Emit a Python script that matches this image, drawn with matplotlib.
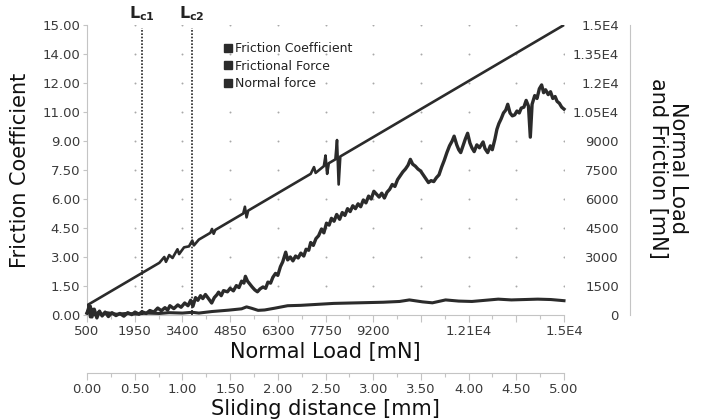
import matplotlib
matplotlib.use('Agg')
import matplotlib.pyplot as plt
from matplotlib.lines import Line2D
import numpy as np

# ---- axis ticks / labels ----
load_ticks = [500, 1950, 3400, 4850, 6300, 7750, 9200, 10650, 12100, 13550, 15000]
load_labels = ['500', '1950', '3400', '4850', '6300', '7750', '9200', '', '1.21E4', '', '1.5E4']
cof_ticks = [0, 1.5, 3, 4.5, 6, 7.5, 9, 10.5, 12, 13.5, 15]
cof_labels = ['0.00', '1.50', '3.00', '4.50', '6.00', '7.50', '9.00', '11.00', '12.00', '14.00', '15.00']
force_ticks = [0, 1500, 3000, 4500, 6000, 7500, 9000, 10500, 12000, 13500, 15000]
force_labels = ['0', '1500', '3000', '4500', '6000', '7500', '9000', '1.05E4', '1.2E4', '1.35E4', '1.5E4']
slide_ticks = [0, 0.5, 1, 1.5, 2, 2.5, 3, 3.5, 4, 4.5, 5]
slide_labels = ['0.00', '0.50', '1.00', '1.50', '2.00', '2.50', '3.00', '3.50', '4.00', '4.50', '5.00']

# critical loads [mN]
lc_loads = [2170, 3680]
lc_names = [r'$\mathbf{L_{c1}}$', r'$\mathbf{L_{c2}}$']

# ---- series ----
# normal force [mN] vs normal load [mN]
fn_load = [500, 2700, 2850, 2900, 3000, 3100, 3250, 3300, 3450, 3600, 3700, 3750, 3900,
           4250, 4300, 4350, 4400, 5250, 5300, 5350, 5400, 6400, 7300, 7400, 7450,
           7700, 7750, 7800, 7850, 8050, 8100, 8150, 8200, 15000]
fn_force = [500, 2700, 3000, 2750, 3100, 2950, 3400, 3150, 3500, 3550, 3850, 3600, 3900,
            4250, 4450, 4200, 4400, 5250, 5600, 5050, 5400, 6400, 7300, 7650, 7350,
            7700, 8250, 7300, 7850, 8050, 9050, 6750, 8200, 15000]

# frictional force [mN]
ff_load = [500, 600, 650, 720, 800, 880, 960, 1050, 1150, 1260, 1380, 1500, 1620, 1740,
           1860, 1960, 2080, 2170, 2300, 2410, 2530, 2650, 2760, 2870, 2950, 3020, 3140,
           3260, 3360, 3470, 3570, 3650, 3720, 3800, 3870, 3950, 4020, 4100, 4180, 4290,
           4370, 4450, 4500, 4580, 4650, 4770, 4850, 4950, 5040, 5120, 5200, 5270, 5315,
           5380, 5450, 5520, 5600, 5680, 5760, 5850, 5930, 6000, 6080, 6150, 6230, 6300,
           6380, 6450, 6540, 6600, 6680, 6760, 6840, 6920, 7000, 7090, 7160, 7240, 7300,
           7380, 7460, 7540, 7630, 7700, 7780, 7860, 7930, 8010, 8090, 8180, 8260, 8340,
           8420, 8500, 8580, 8660, 8740, 8820, 8900, 8980, 9060, 9140, 9220, 9300, 9380,
           9460, 9540, 9620, 9700, 9780, 9860, 9940, 10020, 10100, 10180, 10260, 10330,
           10400, 10480, 10560, 10640, 10720, 10800, 10880, 10960, 11040, 11120, 11200,
           11280, 11360, 11440, 11520, 11600, 11660, 11740, 11800, 11860, 11940, 12000,
           12070, 12140, 12200, 12270, 12350, 12430, 12540, 12600, 12680, 12760, 12820,
           12900, 12960, 13020, 13090, 13160, 13230, 13290, 13360, 13430, 13500, 13570,
           13640, 13700, 13780, 13850, 13920, 13976, 14030, 14110, 14180, 14250, 14320,
           14380, 14440, 14520, 14590, 14660, 14730, 14790, 14860, 14930, 15000]
ff_force = [100, 450, -100, 300, -150, 200, -50, 150, -80, 120, -30, 80, -60, 120,
            20, 150, 40, 170, 80, 230, 150, 360, 220, 380, 250, 480, 330,
            520, 400, 620, 480, 760, 450, 900, 760, 1000, 850, 1060, 880, 620,
            900, 1050, 1180, 1000, 1260, 1200, 1380, 1250, 1520, 1420, 1750, 1650, 2000,
            1750, 1600, 1450, 1300, 1200, 1350, 1450, 1380, 1700, 1650, 1950, 2150, 2050,
            2500, 2750, 3250, 2850, 3000, 2800, 3050, 2950, 3200, 3050, 3400, 3350, 3750,
            3600, 3950, 4100, 4450, 4250, 4750, 4650, 5000, 4850, 5200, 4950, 5300, 5150,
            5500, 5350, 5650, 5500, 5750, 5600, 5950, 5800, 6150, 6000, 6400, 6250, 6100,
            6300, 6050, 6350, 6500, 6750, 6650, 7000, 7200, 7400, 7550, 7750, 8050,
            7800, 7700, 7550, 7450, 7250, 7050, 6850, 6950, 6900, 7100, 7250,
            7650, 8000, 8400, 8750, 9000, 9250, 8800, 8550, 8400, 8800, 9100,
            9400, 8900, 8650, 8450, 8800, 8650, 8950, 8600, 8400, 8750, 8550,
            9100, 9600, 9900, 10150, 10450, 10600, 10900, 10450, 10300, 10350, 10550,
            10450, 10700, 10750, 11100, 10800, 9200, 10900, 11350, 11200, 11700, 11900,
            11500, 11650, 11400, 11550, 11200, 11300, 11050, 10950, 10750, 10650]

# friction coefficient [-]
cof_load = [500, 560, 600, 680, 750, 850, 950, 1100, 1400, 1700, 2000, 2300, 2700, 3000,
            3400, 3700, 3900, 4300, 4800, 5200, 5350, 5500, 5700, 5900, 6200, 6600, 7000,
            7500, 8000, 8500, 9000, 9500, 10000, 10300, 10700, 11000, 11400, 11800, 12200,
            12600, 13000, 13400, 13800, 14200, 14600, 15000]
cof_val = [0.10, 0.45, -0.10, 0.30, 0.00, 0.15, 0.02, 0.12, 0.04, 0.08, 0.05, 0.10, 0.08,
           0.12, 0.10, 0.14, 0.10, 0.18, 0.25, 0.32, 0.42, 0.35, 0.24, 0.26, 0.35, 0.48,
           0.50, 0.55, 0.60, 0.62, 0.64, 0.66, 0.70, 0.78, 0.68, 0.63, 0.78, 0.72, 0.70,
           0.76, 0.82, 0.78, 0.80, 0.82, 0.80, 0.74]

plt.rcParams['font.family'] = ['DejaVu Sans']
line_c = '#2b2b2b'
axis_c = '#c4c4c4'
text_c = '#3a3a3a'

W, H = 701, 419
fig = plt.figure(figsize=(W / 100, H / 100), dpi=100)
ax = fig.add_axes([87 / W, 104 / H, 477 / W, 290 / H])

# dotted grid: dots at the intersections only
gx, gy = np.meshgrid(load_ticks[1:], cof_ticks[1:])
ax.plot(gx.ravel(), gy.ravel(), linestyle='none', marker='o', ms=1.4,
        color='#a8a8a8', mec='none', zorder=0)

ax.plot(cof_load, cof_val, color=line_c, lw=2.2, zorder=3, clip_on=False)

for x, name in zip(lc_loads, lc_names):
    ax.vlines(x, 0, 14.85, colors='#222222', linestyles=(0, (1, 1)), lw=1.2, zorder=4)
    ax.text(x, 15.1, name, ha='center', va='bottom', fontsize=11.5, color='#222222')

ax.set_xlim(500, 15000)
ax.set_ylim(0, 15)
ax.set_xticks(load_ticks)
ax.set_xticklabels(load_labels)
ax.set_xticks([(a + b) / 2 for a, b in zip(load_ticks[:-1], load_ticks[1:])], minor=True)
ax.set_yticks(cof_ticks)
ax.set_yticklabels(cof_labels)
ax.tick_params(axis='x', which='major', direction='out', length=5, width=0.8,
               color=axis_c, labelsize=9.5, labelcolor=text_c, pad=2)
ax.tick_params(axis='x', which='minor', direction='out', length=3, width=0.8, color=axis_c)
ax.tick_params(axis='y', which='major', direction='out', length=3, width=0.8,
               color=axis_c, labelsize=9.5, labelcolor=text_c, pad=2, right=True)
for s in ['top', 'right']:
    ax.spines[s].set_visible(False)
for s in ['left', 'bottom']:
    ax.spines[s].set_color(axis_c)

# right axis: forces
ax2 = ax.twinx()
ax2.plot(ff_load, ff_force, color=line_c, lw=2.4, zorder=3, clip_on=False)
ax2.plot(fn_load, fn_force, color=line_c, lw=1.9, zorder=3)
ax2.set_ylim(0, 15000)
ax2.yaxis.tick_left()
ax2.set_yticks(force_ticks)
ax2.set_yticklabels(force_labels)
ax2.tick_params(axis='y', length=0, labelsize=9.5, labelcolor=text_c, pad=8)
for s in ['top', 'right', 'bottom']:
    ax2.spines[s].set_visible(False)
ax2.spines['left'].set_position(('axes', (630 - 87) / 477))
ax2.spines['left'].set_color(axis_c)

# second x axis: sliding distance
ax3 = ax.twiny()
ax3.set_xlim(0, 5)
ax3.xaxis.tick_bottom()
ax3.set_xticks(slide_ticks)
ax3.set_xticklabels(slide_labels)
ax3.set_xticks([t + 0.25 for t in slide_ticks[:-1]], minor=True)
ax3.tick_params(axis='x', which='major', direction='out', length=5, width=0.8,
                color=axis_c, labelsize=9.5, labelcolor=text_c, pad=2)
ax3.tick_params(axis='x', which='minor', direction='out', length=3, width=0.8, color=axis_c)
for s in ['top', 'right', 'left']:
    ax3.spines[s].set_visible(False)
ax3.spines['bottom'].set_position(('outward', 58 * 0.72))
ax3.spines['bottom'].set_color(axis_c)

# axis titles
fig.text(325 / W, 1 - 352 / H, 'Normal Load [mN]', ha='center', va='center', fontsize=15, color='#111111')
fig.text(325 / W, 1 - 409 / H, 'Sliding distance [mm]', ha='center', va='center', fontsize=15, color='#111111')
fig.text(20 / W, 1 - 170 / H, 'Friction Coefficient', ha='center', va='center', rotation=90,
         fontsize=15, color='#111111')
fig.text(668 / W, 1 - 168 / H, 'Normal Load\nand Friction [mN]', ha='center', va='center',
         rotation=270, fontsize=15, color='#111111', linespacing=1.0)

handles = [Line2D([], [], linestyle='none', marker='s', ms=6, color=line_c) for _ in range(3)]
fig.legend(handles, ['Friction Coefficient', 'Frictional Force', 'Normal force'],
           loc='upper left', bbox_to_anchor=(218 / W, 1 - 36 / H), frameon=False,
           fontsize=9, handlelength=0.6, handletextpad=0.3, labelspacing=0.35,
           borderpad=0, labelcolor='#222222')

fig.savefig('out.png', dpi=100)
